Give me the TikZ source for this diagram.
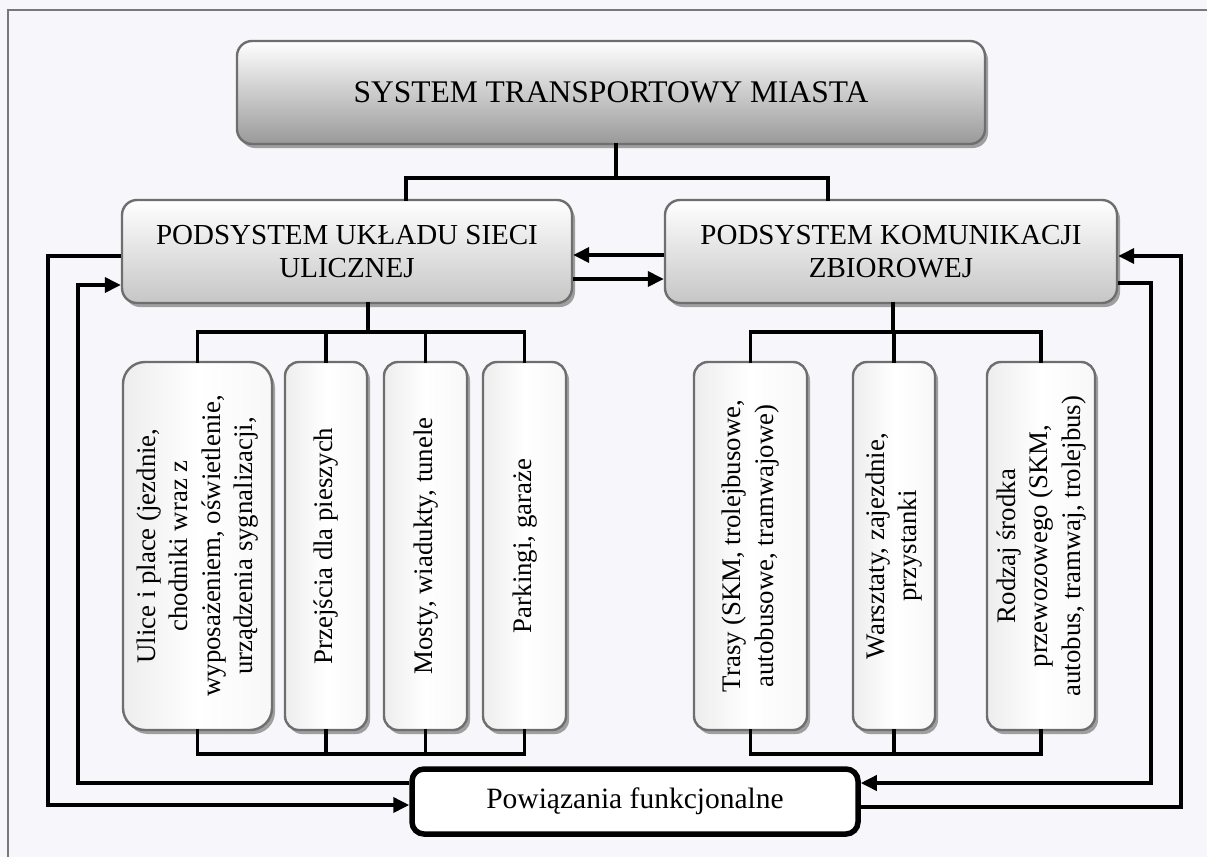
\documentclass[tikz,border=0pt]{standalone}
\usepackage{fontspec}
\setmainfont{Liberation Serif}
\usepackage{graphicx}
\usetikzlibrary{arrows.meta,shadows}
\definecolor{bgc}{RGB}{247,246,251}
\definecolor{brd}{RGB}{110,110,110}
\definecolor{frm}{RGB}{120,120,120}
\newcommand{\vtext}[1]{\rotatebox{90}{\begin{tabular}{@{}c@{}}#1\end{tabular}}}
\begin{document}
\begin{tikzpicture}[x=1pt,y=-1pt,
  shad/.style={drop shadow={shadow xshift=3pt,shadow yshift=-4pt,fill=gray!75,opacity=1}},
  bigbox/.style={draw=brd,line width=2.4pt,rounded corners=15pt,inner sep=0pt,align=center,
    top color=white,shad},
  subbox/.style={bigbox,bottom color=gray!45,font=\fontsize{29}{33}\selectfont},
  childbox/.style={draw=brd,line width=2.4pt,rounded corners=14pt,inner sep=0pt,
    left color=gray!14,right color=gray!6,middle color=white,shad,
    minimum height=368pt,font=\fontsize{26.8}{32.5}\selectfont},
  conn/.style={line width=3.6pt,line cap=rect},
  arr/.style={line width=3.6pt,-{Triangle[length=16pt,width=15pt]}}
]
\useasboundingbox (0,0) rectangle (1207,857);
\fill[bgc] (0,0) rectangle (1207,857);
\draw[frm,line width=2.4pt] (8,857) -- (8,10) -- (1207,10);

% main boxes
\node[bigbox,bottom color=gray!80,minimum width=748pt,minimum height=103pt,
  font=\fontsize{31.5}{36}\selectfont] (top) at (611,92.5) {SYSTEM TRANSPORTOWY MIASTA};
\node[subbox,minimum width=450pt,minimum height=103pt] (ls) at (347,251.5)
  {PODSYSTEM UKŁADU SIECI\\ULICZNEJ};
\node[subbox,minimum width=452pt,minimum height=103pt] (rs) at (891,251.5)
  {PODSYSTEM KOMUNIKACJI\\ZBIOROWEJ};

% children left
\node[childbox,minimum width=149pt,rounded corners=22pt] (c1) at (197.5,546)
  {\vtext{Ulice i place (jezdnie,\\chodniki wraz z\\wyposażeniem, oświetlenie,\\urządzenia sygnalizacji,}};
\node[childbox,minimum width=82pt] (c2) at (326,546) {\vtext{Przejścia dla pieszych}};
\node[childbox,minimum width=83pt] (c3) at (425.5,546) {\vtext{Mosty, wiadukty, tunele}};
\node[childbox,minimum width=83pt] (c4) at (524.5,546) {\vtext{Parkingi, garaże}};
% children right
\node[childbox,minimum width=113pt] (c5) at (750.5,546)
  {\vtext{Trasy (SKM, trolejbusowe,\\autobusowe, tramwajowe)}};
\node[childbox,minimum width=82pt] (c6) at (894,546)
  {\vtext{Warsztaty, zajezdnie,\\przystanki}};
\node[childbox,minimum width=108pt] (c7) at (1041,546)
  {\vtext{Rodzaj środka\\przewozowego (SKM,\\autobus, tramwaj, trolejbus)}};

% bottom box
\node[draw,line width=5.5pt,rounded corners=12pt,fill=white,minimum width=446pt,
  minimum height=65pt,inner sep=0pt,font=\fontsize{29.5}{34}\selectfont] (pow) at (635,801.5)
  {Powiązania funkcjonalne};

% top tree
\coordinate (tj) at (616,178);
\coordinate (lj) at (406,178);
\coordinate (rj) at (828,178);
\draw[conn] (top.south -| tj) -- (tj);
\draw[conn] (lj) -- (rj);
\draw[conn] (lj) -- (lj |- ls.north);
\draw[conn] (rj) -- (rj |- rs.north);

% left children tree
\coordinate (lb) at (368,332);
\draw[conn] (ls.south -| lb) -- (lb);
\draw[conn] (c1.north |- lb) -- (c4.north |- lb);
\foreach \c in {c1,c2,c3,c4} \draw[conn] (\c.north |- lb) -- (\c.north);
\coordinate (lbb) at (0,754);
\draw[conn] (c1.south |- lbb) -- (c4.south |- lbb);
\foreach \c in {c1,c2,c3,c4} \draw[conn] (\c.south) -- (\c.south |- lbb);

% right children tree
\coordinate (rb) at (893,332);
\draw[conn] (rs.south -| rb) -- (rb);
\draw[conn] (c5.north |- rb) -- (c7.north |- rb);
\foreach \c in {c5,c6,c7} \draw[conn] (\c.north |- rb) -- (\c.north);
\draw[conn] (c5.south |- lbb) -- (c7.south |- lbb);
\foreach \c in {c5,c6,c7} \draw[conn] (\c.south) -- (\c.south |- lbb);

% between subsystems
\draw[arr] (rs.west |- 0,255) -- (ls.east |- 0,255);
\draw[arr] (ls.east |- 0,279) -- (rs.west |- 0,279);

% feedback loops left
\coordinate (oL) at (48,805);
\coordinate (iL) at (78,783);
\draw[arr] (ls.west |- 0,256) -| (oL) -- (pow.west |- oL);
\draw[arr] (pow.west |- iL) -- (iL) |- (ls.west |- 0,285);

% feedback loops right
\coordinate (oR) at (1181,807);
\coordinate (iR) at (1151,783);
\draw[arr] (pow.east |- oR) -- (oR) |- (rs.east |- 0,256);
\draw[arr] (rs.east |- 0,283) -| (iR) -- (pow.east |- iR);
\end{tikzpicture}
\end{document}
